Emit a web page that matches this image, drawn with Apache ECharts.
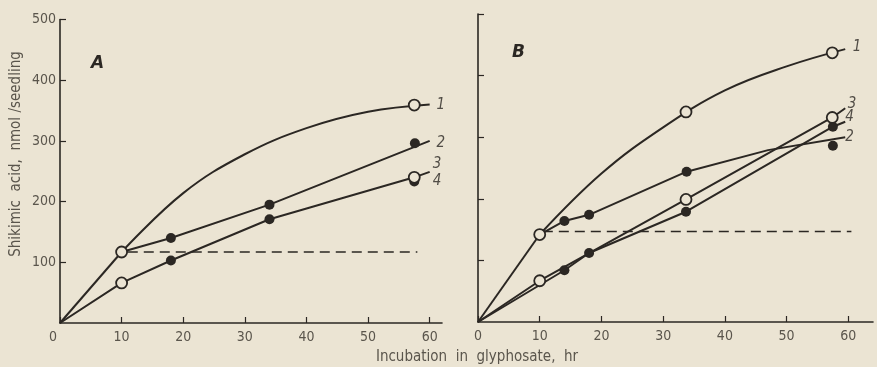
<!DOCTYPE html>
<html>
<head>
<meta charset="utf-8">
<script src="https://cdn.jsdelivr.net/npm/echarts@6/dist/echarts.min.js"></script>
<style>
  html, body { margin: 0; padding: 0; background: #ebe4d3; }
  #chart { width: 877px; height: 367px; }
</style>
</head>
<body>
<div id="chart"></div>
<script>
// ---- data (x = hr, y = nmol/seedling) ----
var xTicks = [0, 10, 20, 30, 40, 50, 60];
var yTicks = [100, 200, 300, 400, 500];

// panel A
var a1Start = [[0, 0], [10, 117]];
var a1Curve = [[10, 117], [20, 214], [30, 278], [40, 321], [50, 348], [60, 360]];
var a2Line = [[10, 117], [18, 140], [34, 195], [60, 300]];
var a34Line = [[0, 0], [10, 66], [18, 103], [34, 171], [57.5, 240], [60, 249]];
var aDash = [[11, 117], [58, 117]];
var aOpen = [[10, 117], [10, 66], [57.5, 359], [57.5, 240]];
var aFilled = [[18, 140], [18, 103], [34, 195], [34, 171], [57.6, 296], [57.5, 233]];
var aNames = [['1', 61.8, 359], ['2', 61.8, 296], ['3', 61.2, 262], ['4', 61.2, 234]];

// panel B
var b1Start = [[0, 0], [10, 142]];
var b1Curve = [[10, 142], [20, 241], [30, 316], [40, 376], [50, 415], [59.5, 443]];
var b2Line = [[10, 142], [14, 164], [18, 174], [33.8, 244], [47, 279], [59.5, 300]];
var b3Line = [[0, 0], [10, 67], [33.7, 199], [57.4, 332], [59.5, 347]];
var b4Line = [[0, 0], [14, 84], [18, 112], [33.7, 179], [57.5, 317], [59.5, 325]];
var bDash = [[10.5, 147], [60.5, 147]];
var bOpen = [[10, 142], [10, 67], [33.7, 341], [33.7, 199], [57.4, 437], [57.4, 332]];
var bFilled = [[14, 164], [18, 174], [33.8, 244], [57.5, 286], [14, 84], [18, 112], [33.7, 179], [57.5, 317]];
var bNames = [['1', 61.4, 446], ['3', 60.6, 353], ['4', 60.2, 332], ['2', 60.2, 300]];

var ink = '#2b2723';
var paper = '#ebe4d3';
var textCol = '#5a554c';
var tickFont = "'DejaVu Sans Condensed', 'Liberation Sans Narrow', 'Noto Sans', sans-serif";

var chart = echarts.init(document.getElementById('chart'));

function xAxisFor(gi, max, shiftZero) {
  return {
    type: 'value', gridIndex: gi, min: 0, max: max,
    splitLine: { show: false },
    axisLine: { lineStyle: { color: ink, width: 1.6 } },
    axisTick: { inside: true, length: 6, customValues: xTicks, lineStyle: { color: ink, width: 1.2 } },
    axisLabel: {
      customValues: xTicks, color: textCol, fontFamily: tickFont, fontSize: 14, margin: 7,
      formatter: function (v) { return (v === 0 && shiftZero) ? '{z|0}' : String(v); },
      rich: { z: { padding: [0, 14, 0, 0], color: textCol, fontFamily: tickFont, fontSize: 14 } }
    }
  };
}

function yAxisFor(gi, showLabels) {
  return {
    type: 'value', gridIndex: gi, min: 0, max: 500,
    splitLine: { show: false },
    axisLine: { lineStyle: { color: ink, width: 1.6 } },
    axisTick: { inside: true, length: 6, customValues: yTicks, lineStyle: { color: ink, width: 1.2 } },
    axisLabel: {
      show: showLabels, customValues: yTicks, color: textCol, fontFamily: tickFont,
      fontSize: 14, margin: 4
    }
  };
}

function line(gi, data, smooth, dashed) {
  return {
    type: 'line', xAxisIndex: gi, yAxisIndex: gi, data: data, smooth: smooth || false,
    symbol: 'none', silent: true, z: 2,
    lineStyle: { color: ink, width: dashed ? 1.5 : 2, type: dashed ? [10, 6] : 'solid' }
  };
}

function dots(gi, data, filled) {
  return {
    type: 'scatter', xAxisIndex: gi, yAxisIndex: gi, data: data, symbolSize: filled ? 10 : 11,
    z: filled ? 3 : 4,
    itemStyle: filled ? { color: ink, opacity: 1 } : { color: paper, opacity: 1, borderColor: ink, borderWidth: 1.8 }
  };
}

function names(gi, list) {
  return {
    type: 'scatter', xAxisIndex: gi, yAxisIndex: gi, symbolSize: 0, z: 5,
    data: list.map(function (d) { return { name: d[0], value: [d[1], d[2]] }; }),
    label: {
      show: true, position: 'inside', formatter: '{b}', color: ink,
      fontFamily: tickFont, fontStyle: 'italic', fontSize: 15
    }
  };
}

var option = {
  backgroundColor: paper,
  animation: false,
  grid: [
    { left: 60, top: 19.5, width: 382, height: 303.5 },
    { left: 478, top: 14, width: 395, height: 308 }
  ],
  xAxis: [xAxisFor(0, 62, true), xAxisFor(1, 64, false)],
  yAxis: [yAxisFor(0, true), yAxisFor(1, false)],
  graphic: [
    { type: 'text', left: 91, top: 55, style: { text: 'A', font: "italic bold 17px 'DejaVu Sans', sans-serif", fill: ink } },
    { type: 'text', left: 512, top: 44, style: { text: 'B', font: "italic bold 17px 'DejaVu Sans', sans-serif", fill: ink } },
    { type: 'text', x: 16, y: 154, rotation: Math.PI / 2,
      style: { text: 'Shikimic  acid,  nmol /seedling', font: "15px " + tickFont, fill: textCol,
               align: 'center', verticalAlign: 'middle' } },
    { type: 'text', x: 477, y: 357,
      style: { text: 'Incubation  in  glyphosate,  hr', font: "15px " + tickFont, fill: textCol,
               align: 'center', verticalAlign: 'middle' } }
  ],
  series: [
    line(0, a1Start), line(0, a1Curve, 0.4), line(0, a2Line), line(0, a34Line), line(0, aDash, false, true),
    dots(0, aFilled, true), dots(0, aOpen, false), names(0, aNames),
    line(1, b1Start), line(1, b1Curve, 0.4), line(1, b2Line), line(1, b3Line), line(1, b4Line),
    line(1, bDash, false, true),
    dots(1, bFilled, true), dots(1, bOpen, false), names(1, bNames)
  ]
};

chart.setOption(option);
</script>
</body>
</html>
